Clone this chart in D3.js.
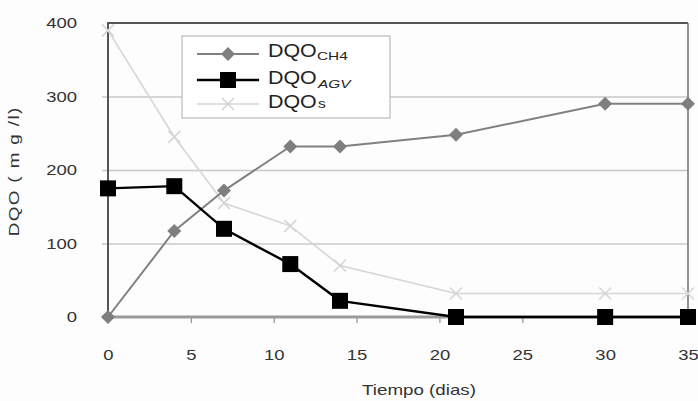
<!DOCTYPE html>
<html>
<head>
<meta charset="utf-8">
<script src="https://cdn.jsdelivr.net/npm/d3@7/dist/d3.min.js"></script>
<style>
  html, body { margin: 0; padding: 0; background: #fdfdfd; }
  svg { display: block; font-family: "Liberation Sans", Arial, sans-serif; }
</style>
</head>
<body>
<svg id="chart" width="698" height="401"></svg>
<script>
const days = [0, 4, 7, 11, 14, 21, 30, 35];
const dqoCH4 = [0, 117, 172, 232, 232, 248, 290, 290];
const dqoAGV = [175, 178, 120, 72, 22, 0, 0, 0];
const dqoS = [390, 245, 155, 124, 70, 32, 32, 32];
const xTicks = [0, 5, 10, 15, 20, 25, 30, 35];
const yTicks = [0, 100, 200, 300, 400];
const legendBase = ["DQO", "DQO", "DQO"];
const legendSub = ["CH4", "AGV", "s"];
const xTitle = "Tiempo (dias)";
const yTitle = "DQO ( m g /l)";

const svg = d3.select("#chart");
const x = d3.scaleLinear().domain([0, 35]).range([108, 688]);
const y = d3.scaleLinear().domain([0, 400]).range([317, 23]);
const SX = 1.32;

// gridlines
svg.append("g")
  .attr("transform", `translate(${x(0)},0)`)
  .call(d3.axisLeft(y).tickValues(yTicks.filter(v => v > 0 && v < 400)).tickSize(-(x(35) - x(0)) - 6).tickFormat(""))
  .call(g => g.select(".domain").remove())
  .call(g => g.selectAll(".tick line").attr("stroke", "#c8c8c8").attr("stroke-width", 1.3).attr("transform", "translate(-6,0)").attr("x2", x(35) - x(0) + 6).attr("x1", 0));

// y tick labels
const yAx = svg.append("g")
  .attr("transform", `translate(${x(0)},0)`)
  .call(d3.axisLeft(y).tickValues(yTicks).tickSize(0).tickFormat(d3.format("d")));
yAx.select(".domain").remove();
yAx.selectAll(".tick text")
  .attr("x", 0).attr("dy", "0.35em")
  .attr("font-size", 14).attr("font-family", "Liberation Sans, Arial, sans-serif")
  .attr("fill", "#333")
  .attr("transform", `translate(-31,0) scale(${SX},1)`);

// x axis with ticks
const xAx = svg.append("g")
  .attr("transform", `translate(0,${y(0)})`)
  .call(d3.axisBottom(x).tickValues(xTicks).tickSize(6).tickFormat(d3.format("d")));
xAx.select(".domain").remove();
xAx.selectAll(".tick line").attr("stroke", "#999").attr("stroke-width", 1.3);
xAx.selectAll(".tick text")
  .attr("y", 0).attr("dy", 0)
  .attr("font-size", 14).attr("font-family", "Liberation Sans, Arial, sans-serif")
  .attr("fill", "#333")
  .attr("transform", `translate(0,43) scale(${SX},1)`);

// frame
svg.append("line").attr("x1", x(0)).attr("x2", x(35)).attr("y1", y(400)).attr("y2", y(400))
  .attr("stroke", "#555").attr("stroke-width", 2);
svg.append("line").attr("x1", x(35)).attr("x2", x(35)).attr("y1", y(400)).attr("y2", y(0))
  .attr("stroke", "#777").attr("stroke-width", 1.6);
svg.append("line").attr("x1", x(0)).attr("x2", x(0)).attr("y1", y(400) - 1).attr("y2", y(0))
  .attr("stroke", "#555").attr("stroke-width", 2);
svg.append("line").attr("x1", x(0) - 6).attr("x2", x(35)).attr("y1", y(0)).attr("y2", y(0))
  .attr("stroke", "#9a9a9a").attr("stroke-width", 3.2);

// axis titles
svg.append("text").text(xTitle)
  .attr("text-anchor", "middle").attr("font-size", 14).attr("fill", "#333")
  .attr("transform", `translate(419,395) scale(1.34,1)`);
svg.append("text").text(yTitle)
  .attr("text-anchor", "middle").attr("font-size", 14).attr("fill", "#333")
  .attr("textLength", 96).attr("lengthAdjust", "spacing")
  .attr("transform", `translate(19,172) rotate(-90) scale(1.34,1)`);

// series
const line = d3.line().x(d => x(d[0])).y(d => y(d[1]));
const ptsS = days.map((d, i) => [d, dqoS[i]]);
const ptsC = days.map((d, i) => [d, dqoCH4[i]]);
const ptsA = days.map((d, i) => [d, dqoAGV[i]]);

function drawX(g, cx, cy, r) {
  g.append("path").attr("d", `M${cx - r},${cy - r}L${cx + r},${cy + r}M${cx - r},${cy + r}L${cx + r},${cy - r}`)
    .attr("stroke", "#d6d6d6").attr("stroke-width", 1.6).attr("fill", "none");
}
function drawDiamond(g, cx, cy, r) {
  g.append("path").attr("d", `M${cx},${cy - r}L${cx + r},${cy}L${cx},${cy + r}L${cx - r},${cy}Z`)
    .attr("fill", "#7f7f7f");
}
function drawSquare(g, cx, cy, s) {
  g.append("rect").attr("x", cx - s / 2).attr("y", cy - s / 2).attr("width", s).attr("height", s)
    .attr("fill", "#000");
}

const gS = svg.append("g");
gS.append("path").datum(ptsS).attr("d", line).attr("fill", "none").attr("stroke", "#d6d6d6").attr("stroke-width", 1.6);
ptsS.forEach(p => drawX(gS, x(p[0]), y(p[1]), 6));

const gC = svg.append("g");
gC.append("path").datum(ptsC).attr("d", line).attr("fill", "none").attr("stroke", "#808080").attr("stroke-width", 2);
ptsC.forEach(p => drawDiamond(gC, x(p[0]), y(p[1]), 7));

const gA = svg.append("g");
gA.append("path").datum(ptsA).attr("d", line).attr("fill", "none").attr("stroke", "#000").attr("stroke-width", 2.4);
ptsA.forEach(p => drawSquare(gA, x(p[0]), y(p[1]), 16));

// legend
const lg = svg.append("g");
lg.append("rect").attr("x", 182).attr("y", 36).attr("width", 208).attr("height", 82)
  .attr("fill", "#fff").attr("stroke", "#bbb").attr("stroke-width", 1.2);
const rowsY = [54, 80, 104];
const baselines = [57, 84, 108];
// row 1 CH4
lg.append("line").attr("x1", 197).attr("x2", 259).attr("y1", rowsY[0]).attr("y2", rowsY[0]).attr("stroke", "#808080").attr("stroke-width", 2);
drawDiamond(lg, 228, rowsY[0], 7);
// row 2 AGV
lg.append("line").attr("x1", 197).attr("x2", 259).attr("y1", rowsY[1]).attr("y2", rowsY[1]).attr("stroke", "#000").attr("stroke-width", 2.4);
drawSquare(lg, 228, rowsY[1], 16);
// row 3 S
lg.append("line").attr("x1", 197).attr("x2", 259).attr("y1", rowsY[2]).attr("y2", rowsY[2]).attr("stroke", "#d6d6d6").attr("stroke-width", 1.6);
drawX(lg, 228, rowsY[2], 6);

legendBase.forEach((t, i) => {
  lg.append("text").text(t).attr("font-size", 18).attr("fill", "#222")
    .attr("transform", `translate(268,${baselines[i]}) scale(1.19,1)`);
});
lg.append("text").text(legendSub[0]).attr("font-size", 11).attr("fill", "#222")
  .attr("transform", `translate(317,${baselines[0] + 3}) scale(1.4,1)`);
lg.append("text").text(legendSub[1]).attr("font-size", 11).attr("fill", "#222").attr("font-style", "italic")
  .attr("transform", `translate(318,${baselines[1] + 4}) scale(1.4,1)`);
lg.append("text").text(legendSub[2]).attr("font-size", 13).attr("fill", "#222")
  .attr("transform", `translate(318,${baselines[2]}) scale(1.2,1)`);
</script>
</body>
</html>
